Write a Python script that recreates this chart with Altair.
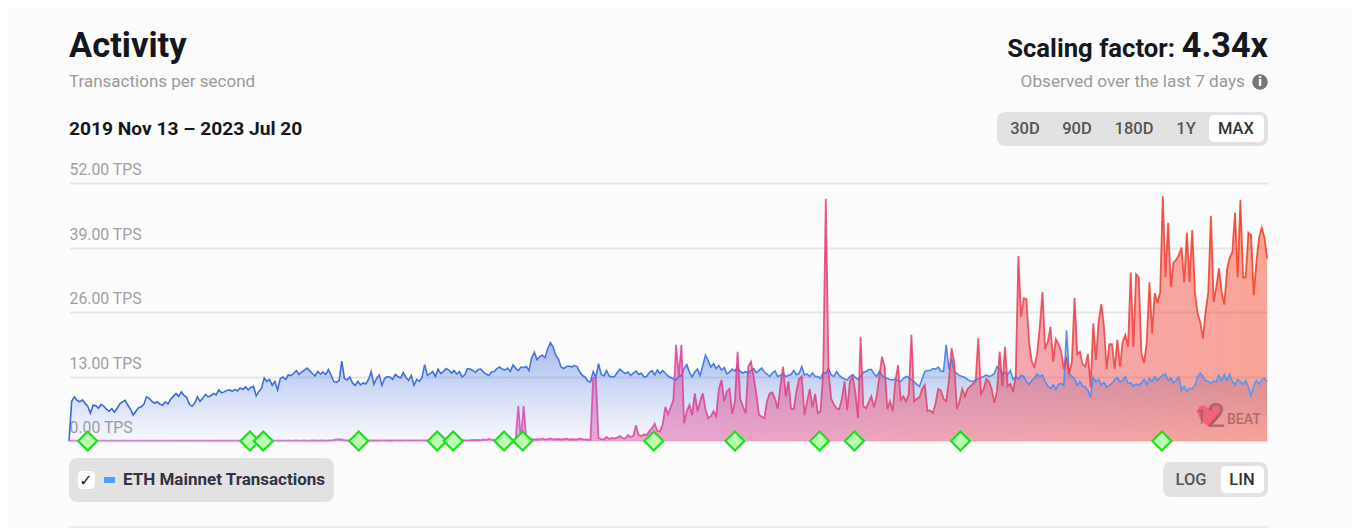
import altair as alt
import pandas as pd

START = "2019-11-13"
END = "2023-07-20"
STEP_DAYS = 3

ETH_TPS = [
    0.0, 8.0, 8.9, 8.2, 7.9, 8.3, 7.6, 7.0, 5.6, 7.2,
    7.1, 6.6, 7.4, 7.0, 6.4, 6.0, 6.5, 5.8, 6.6, 7.5,
    7.9, 8.2, 7.2, 6.4, 5.2, 6.0, 6.7, 6.9, 7.4, 8.9,
    8.6, 8.0, 7.6, 7.9, 7.4, 7.2, 7.9, 7.5, 8.4, 9.0,
    9.6, 9.0, 9.9, 9.2, 8.8, 7.4, 7.0, 7.6, 8.9, 8.0,
    8.6, 9.4, 8.9, 9.1, 9.6, 9.3, 10.3, 9.7, 9.9, 10.2,
    10.3, 10.0, 10.4, 10.1, 10.7, 10.4, 10.9, 10.3, 10.8, 11.0,
    9.1, 10.0, 10.6, 12.7, 12.0, 12.4, 11.2, 12.0, 10.3, 12.6,
    12.9, 12.4, 13.3, 13.2, 13.6, 14.2, 13.4, 13.9, 14.3, 14.7,
    14.2, 13.6, 13.1, 14.0, 13.5, 13.9, 13.4, 14.4, 13.3, 12.0,
    11.8, 12.2, 16.1, 12.6, 12.3, 12.9, 11.7, 11.2, 12.0, 11.3,
    11.7, 11.5, 12.4, 14.0, 11.4, 12.6, 13.3, 11.2, 12.6, 13.0,
    12.9, 12.4, 13.4, 13.0, 12.7, 13.8, 12.8, 12.2, 13.2, 11.2,
    12.4, 12.0, 12.8, 15.4, 13.2, 13.6, 14.0, 13.0, 14.5, 13.6,
    14.0, 14.6, 14.3, 13.7, 14.2, 13.5, 14.0, 12.9, 13.3, 14.6,
    14.5, 14.2, 13.8, 14.4, 14.5, 13.9, 13.5, 13.2, 13.9, 14.0,
    14.6, 14.9, 14.5, 14.3, 14.7, 14.0, 15.3, 14.7, 14.2, 14.9,
    14.8, 15.0, 14.2, 16.8, 17.9, 16.4, 17.0, 17.3, 16.8, 18.6,
    19.8, 19.0, 17.3, 16.5, 14.9, 14.6, 15.0, 15.1, 14.9, 15.2,
    15.0, 13.9, 13.2, 12.9, 12.1, 11.9, 14.0, 12.8, 15.6, 13.4,
    13.1, 14.2, 13.1, 12.9, 13.0, 13.8, 14.5, 14.0, 13.6, 13.9,
    13.2, 13.7, 14.1, 13.4, 13.7, 12.9, 13.0, 13.8, 14.2, 13.3,
    14.3, 13.6, 14.2, 13.6, 13.1, 12.8, 12.5, 12.3, 13.0, 13.2,
    14.6, 15.4, 13.8, 12.9, 13.9, 14.5, 13.2, 15.2, 17.3, 16.2,
    14.9, 15.6, 14.6, 15.2, 14.3, 14.8, 13.5, 13.9, 14.5, 14.1,
    14.9, 14.0, 13.7, 14.0, 13.6, 14.2, 14.6, 13.8, 14.2, 14.7,
    13.9, 13.5, 13.0, 13.7, 14.1, 13.0, 13.2, 13.6, 13.0, 13.2,
    13.4, 14.2, 13.3, 13.6, 15.0, 13.3, 13.5, 13.0, 13.7, 13.0,
    13.0, 12.6, 13.8, 13.6, 14.6, 13.3, 13.0, 14.0, 13.2, 12.8,
    12.5, 12.3, 13.0, 13.4, 12.8, 12.4, 13.0, 13.8, 14.0, 14.4,
    14.4, 13.6, 13.0, 14.0, 13.2, 12.8, 12.6, 12.4, 12.3, 12.5,
    12.1, 12.0, 12.6, 13.0, 12.8, 12.4, 11.9, 11.4, 11.0, 12.5,
    14.0, 14.2, 14.2, 14.6, 14.5, 14.9, 14.1, 14.0, 19.4, 14.5,
    16.7, 14.0, 13.6, 13.2, 13.0, 12.8, 12.4, 12.1, 12.0, 12.3,
    12.6, 12.8, 13.0, 13.3, 13.0, 13.2, 13.6, 15.0, 14.5, 13.4,
    13.9, 13.4, 14.2, 12.4, 13.0, 12.5, 13.2, 13.0, 12.0, 11.4,
    12.2, 12.6, 13.5, 13.0, 13.3, 12.0, 11.0, 10.6, 11.3, 10.4,
    11.4, 11.6, 11.2, 22.3, 13.5, 13.0, 12.6, 11.2, 12.0, 11.1,
    10.9, 10.2, 8.8, 12.8, 11.9, 12.4, 11.3, 11.8, 10.9, 11.2,
    11.6, 12.4, 12.8, 11.9, 12.2, 13.0, 11.6, 11.8, 11.0, 11.5,
    11.2, 11.7, 12.4, 11.4, 12.6, 12.0, 13.0, 12.2, 12.8, 13.3,
    13.5, 12.2, 12.7, 11.7, 12.2, 12.9, 10.2, 11.0, 10.0, 10.6,
    10.5, 11.2, 13.0, 13.7, 13.0, 12.2, 12.0, 11.6, 12.1, 11.9,
    13.2, 12.1, 13.4, 12.2, 13.5, 12.0, 11.3, 12.4, 12.0, 11.4,
    12.2, 10.9, 9.0, 11.2, 12.2, 11.4, 12.4, 12.7, 12.0,
]

SCALING_TPS = [
    0.05, 0.06, 0.06, 0.07, 0.06, 0.07, 0.06, 0.07, 0.06, 0.07,
    0.07, 0.06, 0.07, 0.07, 0.06, 0.07, 0.07, 0.06, 0.07, 0.07,
    0.07, 0.07, 0.06, 0.07, 0.07, 0.07, 0.07, 0.08, 0.07, 0.07,
    0.08, 0.07, 0.08, 0.07, 0.08, 0.08, 0.07, 0.08, 0.08, 0.07,
    0.08, 0.08, 0.07, 0.08, 0.08, 0.08, 0.07, 0.08, 0.08, 0.08,
    0.08, 0.09, 0.08, 0.08, 0.09, 0.08, 0.08, 0.09, 0.09, 0.08,
    0.09, 0.08, 0.09, 0.09, 0.08, 0.09, 0.09, 0.09, 0.08, 0.09,
    0.09, 0.09, 0.09, 0.08, 0.09, 0.09, 0.09, 0.09, 0.09, 0.09,
    0.09, 0.09, 0.10, 0.09, 0.09, 0.10, 0.09, 0.09, 0.10, 0.09,
    0.09, 0.10, 0.10, 0.09, 0.10, 0.10, 0.09, 0.10, 0.12, 0.20,
    0.30, 0.35, 0.30, 0.15, 0.10, 0.10, 0.10, 0.10, 0.10, 0.10,
    0.10, 0.10, 0.11, 0.10, 0.10, 0.11, 0.10, 0.11, 0.11, 0.10,
    0.11, 0.10, 0.11, 0.11, 0.10, 0.11, 0.11, 0.12, 0.11, 0.11,
    0.12, 0.11, 0.12, 0.12, 0.11, 0.12, 0.12, 0.13, 0.12, 0.12,
    0.12, 0.13, 0.12, 0.14, 0.13, 0.14, 0.13, 0.15, 0.14, 0.14,
    0.15, 0.20, 0.15, 0.20, 0.15, 0.30, 0.20, 0.40, 0.25, 0.20,
    0.20, 0.30, 0.20, 0.25, 0.20, 0.30, 0.25, 0.20, 7.10, 0.30,
    7.10, 0.30, 0.20, 0.40, 0.30, 0.35, 0.30, 0.50, 0.30, 0.40,
    0.50, 0.30, 0.35, 0.40, 0.30, 0.35, 0.50, 0.30, 0.35, 0.30,
    0.30, 0.50, 0.40, 0.30, 0.25, 0.30, 12.7, 12.8, 0.60, 0.40,
    0.30, 0.80, 0.40, 0.60, 0.50, 0.70, 1.00, 0.60, 0.50, 1.20,
    0.80, 1.00, 3.20, 1.20, 1.00, 1.30, 1.20, 2.00, 2.60, 3.50,
    2.00, 1.90, 3.40, 6.90, 5.40, 6.80, 8.30, 19.4, 13.0, 19.4,
    3.60, 6.00, 7.30, 5.20, 9.60, 6.00, 8.00, 9.60, 6.40, 4.60,
    5.00, 6.00, 5.00, 10.5, 12.3, 8.00, 10.0, 10.5, 5.50, 8.00,
    18.0, 8.50, 7.00, 5.60, 15.0, 16.0, 13.0, 9.50, 5.30, 4.90,
    4.60, 8.00, 9.60, 9.80, 8.50, 6.50, 11.0, 15.0, 9.00, 12.0,
    6.50, 6.40, 10.0, 12.5, 13.0, 5.20, 8.00, 10.5, 6.80, 9.50,
    5.60, 6.00, 13.6, 48.8, 14.0, 8.50, 7.40, 6.60, 6.40, 8.50,
    12.0, 6.20, 12.0, 13.0, 10.0, 4.60, 21.0, 7.00, 6.60, 7.80,
    9.00, 6.80, 9.00, 13.0, 17.0, 15.0, 6.40, 8.00, 6.00, 12.0,
    15.3, 8.30, 9.00, 8.00, 9.40, 21.4, 8.00, 8.50, 8.80, 10.5,
    11.3, 6.00, 6.20, 5.60, 7.50, 10.5, 10.2, 8.50, 8.00, 12.0,
    18.7, 15.8, 6.40, 8.00, 10.5, 9.00, 10.5, 11.0, 11.5, 12.0,
    20.7, 9.50, 10.5, 12.5, 12.0, 10.5, 7.70, 10.0, 18.0, 11.0,
    19.0, 11.0, 11.5, 9.90, 13.0, 37.3, 25.0, 28.8, 28.6, 20.0,
    16.0, 15.0, 17.5, 23.0, 30.0, 18.5, 20.0, 23.0, 16.0, 20.5,
    19.5, 18.0, 14.5, 17.0, 13.5, 16.0, 28.8, 17.5, 18.0, 15.5,
    15.0, 17.5, 10.8, 23.7, 16.3, 24.0, 27.6, 23.0, 14.5, 19.5,
    19.5, 14.5, 20.4, 15.0, 20.0, 21.4, 19.0, 34.0, 19.0, 33.6,
    33.0, 17.7, 15.7, 20.0, 32.0, 21.7, 29.8, 27.8, 30.0, 49.3,
    33.0, 44.0, 31.0, 36.0, 36.5, 37.5, 39.0, 32.0, 42.0, 32.0,
    42.5, 30.0, 25.7, 24.0, 20.7, 26.0, 30.0, 45.4, 28.0, 31.0,
    34.8, 30.0, 27.5, 34.5, 37.0, 38.0, 46.0, 33.0, 48.6, 33.0,
    33.0, 42.0, 41.5, 29.4, 36.0, 41.0, 43.0, 41.0, 36.8,
]

MILESTONE_DAYS = [21, 203, 218, 325, 413, 431, 488, 509, 656, 747, 842, 881, 1000, 1226]
TPS_TICKS = [0, 13, 26, 39, 52]

TITLE = "Activity"
SUBTITLE = "Transactions per second"
DATE_RANGE = "2019 Nov 13 \u2013 2023 Jul 20"
FACTOR_LABEL = "Scaling factor:"
FACTOR_VALUE = "4.34x"
OBSERVED = "Observed over the last 7 days"
RANGES = ["30D", "90D", "180D", "1Y", "MAX"]
SERIES_NAME = "ETH Mainnet Transactions"
SCALES = ["LOG", "LIN"]

FONT = "Roboto"
start = pd.Timestamp(START)
dates = [(start + pd.Timedelta(days=STEP_DAYS * i)).strftime("%Y-%m-%d") for i in range(len(ETH_TPS))]
df = pd.DataFrame({"date": dates, "eth": ETH_TPS, "scaling": SCALING_TPS})
ms = pd.DataFrame({
    "date": [(start + pd.Timedelta(days=d)).strftime("%Y-%m-%d") for d in MILESTONE_DAYS],
    "tps": [0] * len(MILESTONE_DAYS),
})

ORIGIN_X, ORIGIN_Y = 69, 183
x_scale = alt.Scale(domain=[START, END])
y_scale = alt.Scale(domain=[0, 52], nice=False)
X = alt.X("date:T", scale=x_scale, axis=None)


def horiz(stops):
    return alt.LinearGradient(
        gradient="linear", x1=0, x2=1, y1=0, y2=0,
        stops=[alt.GradientStop(color=c, offset=o) for o, c in stops],
    )


SCALING_STOPS = [(0, "#c47ce0"), (0.38, "#d050b8"), (0.55, "#dc3f90"),
                 (0.75, "#e8405e"), (1, "#f43a1c")]
ETH_LINE_STOPS = [(0, "#3c68d8"), (0.5, "#4678e4"), (1, "#549cf8")]

eth_area = alt.Chart(df).mark_area(
    color=alt.LinearGradient(
        gradient="linear", x1=0, x2=0, y1=0, y2=1,
        stops=[alt.GradientStop(color="rgba(64,110,224,0.50)", offset=0),
               alt.GradientStop(color="rgba(64,110,224,0.02)", offset=1)],
    )
).encode(X, alt.Y("eth:Q", scale=y_scale, axis=alt.Axis(
    values=TPS_TICKS, title=None, domain=False, ticks=False, grid=True,
    gridColor="#e6e6e6", gridWidth=2, labelAlign="left", labelBaseline="bottom",
    labelPadding=0, labelOffset=-5.5, labelFont=FONT, labelFontSize=15.8,
    labelColor="#a0a0a0", labelExpr="format(datum.value, '.2f') + ' TPS'",
)))
scaling_area = alt.Chart(df).mark_area(color=horiz(SCALING_STOPS), opacity=0.45).encode(
    X, alt.Y("scaling:Q", scale=y_scale))
scaling_line = alt.Chart(df).mark_line(color=horiz(SCALING_STOPS), strokeWidth=1.8, opacity=0.85).encode(
    X, alt.Y("scaling:Q", scale=y_scale))
eth_line = alt.Chart(df).mark_line(color=horiz(ETH_LINE_STOPS), strokeWidth=1.6).encode(
    X, alt.Y("eth:Q", scale=y_scale))
milestones = alt.Chart(ms).mark_point(
    shape="diamond", filled=True, fill="#b8ffb0", stroke="#1fdc1f",
    strokeWidth=2.2, size=360, opacity=1,
).encode(X, alt.Y("tps:Q", scale=y_scale))

one = alt.Data(values=[{"k": 0}])
HEART = "M0,0.9 C-1.25,0 -1.05,-0.85 -0.5,-0.85 C-0.2,-0.85 0,-0.55 0,-0.45 C0,-0.55 0.2,-0.85 0.5,-0.85 C1.05,-0.85 1.25,0 0,0.9 Z"


def box(x0, y0, x1, y1, color, radius=0):
    return alt.Chart(one).mark_rect(color=color, cornerRadius=radius).encode(
        x=alt.value(x0 - ORIGIN_X), x2=alt.value(x1 - ORIGIN_X),
        y=alt.value(y0 - ORIGIN_Y), y2=alt.value(y1 - ORIGIN_Y),
    )


def label(text, x, y, size, color="#222222", weight=400, align="left", font=FONT, opacity=1.0):
    return alt.Chart(one).mark_text(
        text=text, align=align, baseline="middle", font=font, fontSize=size,
        fontWeight=weight, color=color, opacity=opacity,
    ).encode(x=alt.value(x - ORIGIN_X), y=alt.value(y - ORIGIN_Y))


watermark = [
    alt.Chart(one).mark_point(shape=HEART, filled=True, size=600, color="#ee6478", opacity=1).encode(
        x=alt.value(1209 - ORIGIN_X), y=alt.value(416 - ORIGIN_Y)),
    label("1", 1201, 418, 20, "#8a4a4a", align="center", opacity=0.55),
    label("2", 1216, 417, 33, "#8a4a4a", align="center", opacity=0.6),
    label("BEAT", 1227, 420, 14, "#8a4a4a", 500, opacity=0.6),
]

ui = [
    label(TITLE, 69, 47, 34.5, "#15171c", 700),
    label(SUBTITLE, 69, 82, 17, "#9a9a9a"),
    label(DATE_RANGE, 69, 129, 19.2, "#15171c", 700),
    label(FACTOR_LABEL, 1175, 49, 25.7, "#15171c", 700, "right"),
    label(FACTOR_VALUE, 1268, 47, 34.2, "#15171c", 700, "right"),
    label(OBSERVED, 1245, 82, 17.2, "#9a9a9a", align="right"),
    alt.Chart(one).mark_point(filled=True, shape="circle", size=240, color="#777777", opacity=1).encode(
        x=alt.value(1260 - ORIGIN_X), y=alt.value(82 - ORIGIN_Y)),
    label("i", 1260, 82, 13, "#ffffff", 900, "center"),
    box(997, 112, 1268, 146, "#e2e2e2", 8),
    box(1209, 115, 1264, 142, "#ffffff", 5),
    box(69, 458, 334, 502, "#e2e2e2", 8),
    box(78, 471, 95, 489, "#ffffff", 4),
    box(104, 477, 115, 483, "#4a9eff", 1),
    label("\u2713", 86, 481, 16, "#222222", 700, "center", font="DejaVu Sans"),
    label(SERIES_NAME, 123, 480, 17, "#333344", 700),
    box(1163, 462, 1268, 497, "#e2e2e2", 8),
    box(1221, 466, 1264, 493, "#ffffff", 5),
    box(69, 526, 1268, 528, "#ececec"),
]
for name, cx in zip(RANGES, [1025, 1077, 1134, 1186, 1236]):
    ui.append(label(name, cx, 128.5, 16.5, "#333333" if name == "MAX" else "#555555", 500, "center"))
for name, cx in zip(SCALES, [1191, 1242]):
    ui.append(label(name, cx, 480, 16.5, "#333333" if name == "LIN" else "#555555", 500, "center"))

chart = alt.layer(
    eth_area, scaling_area, eth_line, scaling_line, *watermark, milestones, *ui
).resolve_scale(y="shared", x="shared").properties(
    width=1199, height=258,
    padding={"left": 61, "top": 175, "right": 85, "bottom": 88},
    autosize=alt.AutoSizeParams(type="none"),
    background="#fcfcfc",
).configure_view(stroke=None)

chart.save("out.html", embed_options={"renderer": "svg", "actions": False})
